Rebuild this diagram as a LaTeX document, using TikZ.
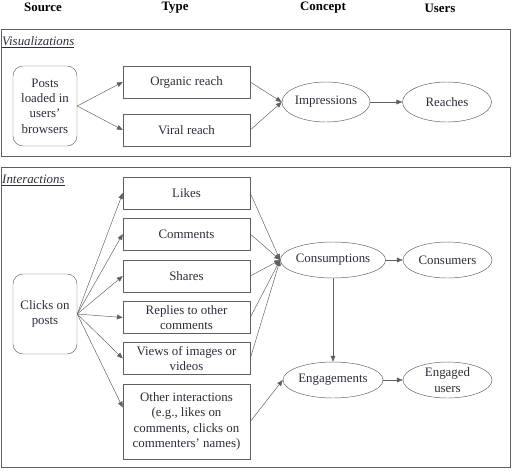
\documentclass[tikz,border=0pt]{standalone}
\usepackage{fontspec}
\setmainfont{Liberation Serif}
\usepackage{tikz}
\usetikzlibrary{arrows.meta,shapes.geometric,positioning}
\definecolor{inkgray}{RGB}{45,45,60}
\definecolor{linegray}{RGB}{95,95,95}

\begin{document}
\begin{tikzpicture}[
        x=0.03cm, y=-0.03cm,
        font=\fontsize{11}{13}\selectfont, text=inkgray,
        source/.style={
            rectangle, draw=linegray, rounded corners=3mm, align=center,
            minimum width=1.92cm, minimum height=2.4cm, inner sep=1pt
        },
        kind/.style={
            rectangle, draw=linegray, align=center,
            minimum width=3.81cm, minimum height=0.96cm, inner sep=1pt
        },
        concept/.style={
            ellipse, draw=linegray, align=center, inner sep=0pt,
            minimum width=3cm, minimum height=1.08cm
        },
        users/.style={
            ellipse, draw=linegray, align=center, inner sep=0pt,
            minimum width=2.67cm, minimum height=1.08cm
        },
        header/.style={font=\fontsize{11}{13}\selectfont\bfseries, text=black},
        frame/.style={draw=linegray, line width=0.7pt},
        link/.style={draw=linegray, -{Triangle[length=5pt,width=4pt]}}
    ]
    \useasboundingbox (0,0) rectangle (512,470);

    % Column headers
    \node[header] (hsource) at (43,7) {Source};
    \node[header] (htype) at (175,8) {Type};
    \node[header] (hconcept) at (323,8) {Concept};
    \node[header] (husers) at (440,8) {Users};

    % Visualizations
    \draw[frame] (1,29) rectangle (510,156);
    \node[anchor=west, inner sep=0pt] (vislabel) at (2,42) {\underline{\textit{Visualizations}}};

    \node[source] (posts) at (45,106) {Posts\\loaded in\\users'\\browsers};
    \node[kind] (organic) at (186.5,82) {Organic reach};
    \node[kind] (viral) at (186.5,130) {Viral reach};
    \node[concept, minimum width=2.64cm, minimum height=1.2cm] (impressions) at (326,102) {Impressions};
    \node[users, minimum height=1.2cm] (reaches) at (447,102) {Reaches};

    \draw[link] (posts.east) -- (organic.west);
    \draw[link] (posts.east) -- (viral.west);
    \draw[link] (organic.east) -- (impressions.west);
    \draw[link] (viral.east) -- (impressions.west);
    \draw[link] (impressions) -- (reaches);

    % Interactions
    \draw[frame] (1,167) rectangle (510,467);
    \node[anchor=west, inner sep=0pt] (intlabel) at (2,180) {\underline{\textit{Interactions}}};

    \node[source] (clicks) at (45,314) {Clicks on\\posts};
    \node[kind] (likes) at (186.5,193) {Likes};
    \node[kind] (comments) at (186.5,234) {Comments};
    \node[kind] (shares) at (186.5,276) {Shares};
    \node[kind] (replies) at (186.5,317.5) {Replies to other\\comments};
    \node[kind] (views) at (186.5,358.5) {Views of images or\\videos};
    \node[kind, minimum height=2.25cm] (other) at (186.5,421.5) {Other interactions\\(e.g., likes on\\comments, clicks on\\commenters' names)};

    \node[concept] (consumptions) at (333,260) {Consumptions};
    \node[users] (consumers) at (447.5,260) {Consumers};
    \node[concept] (engagements) at (333,380) {Engagements};
    \node[users] (engaged) at (447.5,380) {Engaged\\users};

    % Clicks to each type
    \foreach \t in {likes,comments,shares,replies,views}
        \draw[link] (clicks.east) -- (\t.west);
    \draw[link] (clicks.east) -- ([yshift=0.42cm]other.west);

    % Types to concepts
    \foreach \t in {likes,comments,shares,replies,views}
        \draw[link] (\t.east) -- (consumptions.west);
    \draw[link] (other.east) -- (engagements.west);

    \draw[link] (consumptions) -- (consumers);
    \draw[link] (engagements) -- (engaged);
    \draw[link] (consumptions.south) -- (engagements.north);

\end{tikzpicture}
\end{document}
